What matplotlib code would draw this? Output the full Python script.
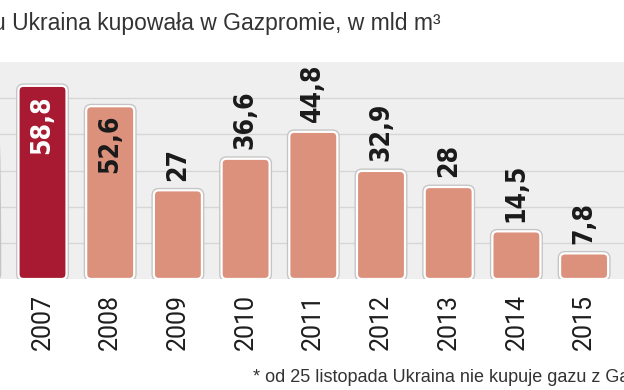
import matplotlib.pyplot as plt
from matplotlib.patches import FancyBboxPatch

# Data (mld m3 bought by Ukraine from Gazprom)
years = ['2006', '2007', '2008', '2009', '2010', '2011', '2012', '2013', '2014', '2015']
values = [57.0, 58.8, 52.6, 27, 36.6, 44.8, 32.9, 28, 14.5, 7.8]
labels = ['', '58,8', '52,6', '27', '36,6', '44,8', '32,9', '28', '14,5', '7,8']
highlight = '2007'

title = 'u Ukraina kupowała w Gazpromie, w mld m³'
note = '* od 25 listopada Ukraina nie kupuje gazu z Gazpromu'

W, H = 624, 390
fig = plt.figure(figsize=(W / 100, H / 100), dpi=100)
ax = fig.add_axes([0, (H - 279) / H, 1, (279 - 62) / H])

ax.set_facecolor('#efefef')
x = [i - 1 for i in range(len(years))]

ax.set_xticks(x)
ax.set_xticklabels(years, rotation=90, fontsize=18, color='#1e1e1e',
                   family=['Roboto', 'Liberation Sans'])
ax.tick_params(axis='x', length=0, pad=11)

ax.set_yticks([11, 22, 33, 44, 55])
ax.set_yticklabels([])
ax.tick_params(axis='y', length=0)
ax.grid(axis='y', color='#d6d6d6', lw=1)
ax.set_axisbelow(True)
for s in ax.spines.values():
    s.set_visible(False)

# limits after the ticks, so the cut-off 2006 tick doesn't widen the view
ax.set_xlim(-42.5 / 67.7, (W - 42.5) / 67.7)
ax.set_ylim(0, (278 - 62) / 3.27)

# rounding: same pixel radius in x and y
bw = 0.71
px_x = 1 / 67.7
px_y = 1 / 3.27
r = 5 * px_x
aspect = px_y / px_x

for xi, v, yr in zip(x, values, years):
    col = '#a81a31' if yr == highlight else '#dc917d'
    shadow = FancyBboxPatch((xi - bw / 2, 0), bw, v,
                            boxstyle=f'round,pad=0,rounding_size={r}',
                            mutation_aspect=aspect, fc='none', ec='#c4c4c4', lw=3.5, zorder=2)
    bar = FancyBboxPatch((xi - bw / 2, 0), bw, v,
                         boxstyle=f'round,pad=0,rounding_size={r}',
                         mutation_aspect=aspect, fc=col, ec='white', lw=1.6, zorder=3)
    ax.add_patch(shadow)
    ax.add_patch(bar)

lab_font = dict(fontsize=19, fontweight='bold', family='DejaVu Sans', fontstretch='condensed')
for xi, v, lab, yr in zip(x, values, labels, years):
    if not lab:
        continue
    if yr == highlight:
        ax.annotate(lab, (xi, v), xytext=(0, -7), textcoords='offset points',
                    ha='center', va='top', rotation=90, color='white', zorder=4, **lab_font)
    elif yr == '2008':
        ax.annotate(lab, (xi, v), xytext=(0, -6), textcoords='offset points',
                    ha='center', va='top', rotation=90, color='#1a1a1a', zorder=4, **lab_font)
    else:
        ax.annotate(lab, (xi, v), xytext=(0, 7), textcoords='offset points',
                    ha='center', va='bottom', rotation=90, color='#1a1a1a', zorder=4, **lab_font)

fig.text(-7 / W, (H - 30) / H, title, fontsize=16.5, color='#333333',
         family='Liberation Sans', va='baseline', ha='left')
fig.text(253 / W, (H - 382) / H, note, fontsize=13, color='#333333',
         family='Liberation Sans', va='baseline', ha='left')

fig.savefig('out.png', dpi=100)
